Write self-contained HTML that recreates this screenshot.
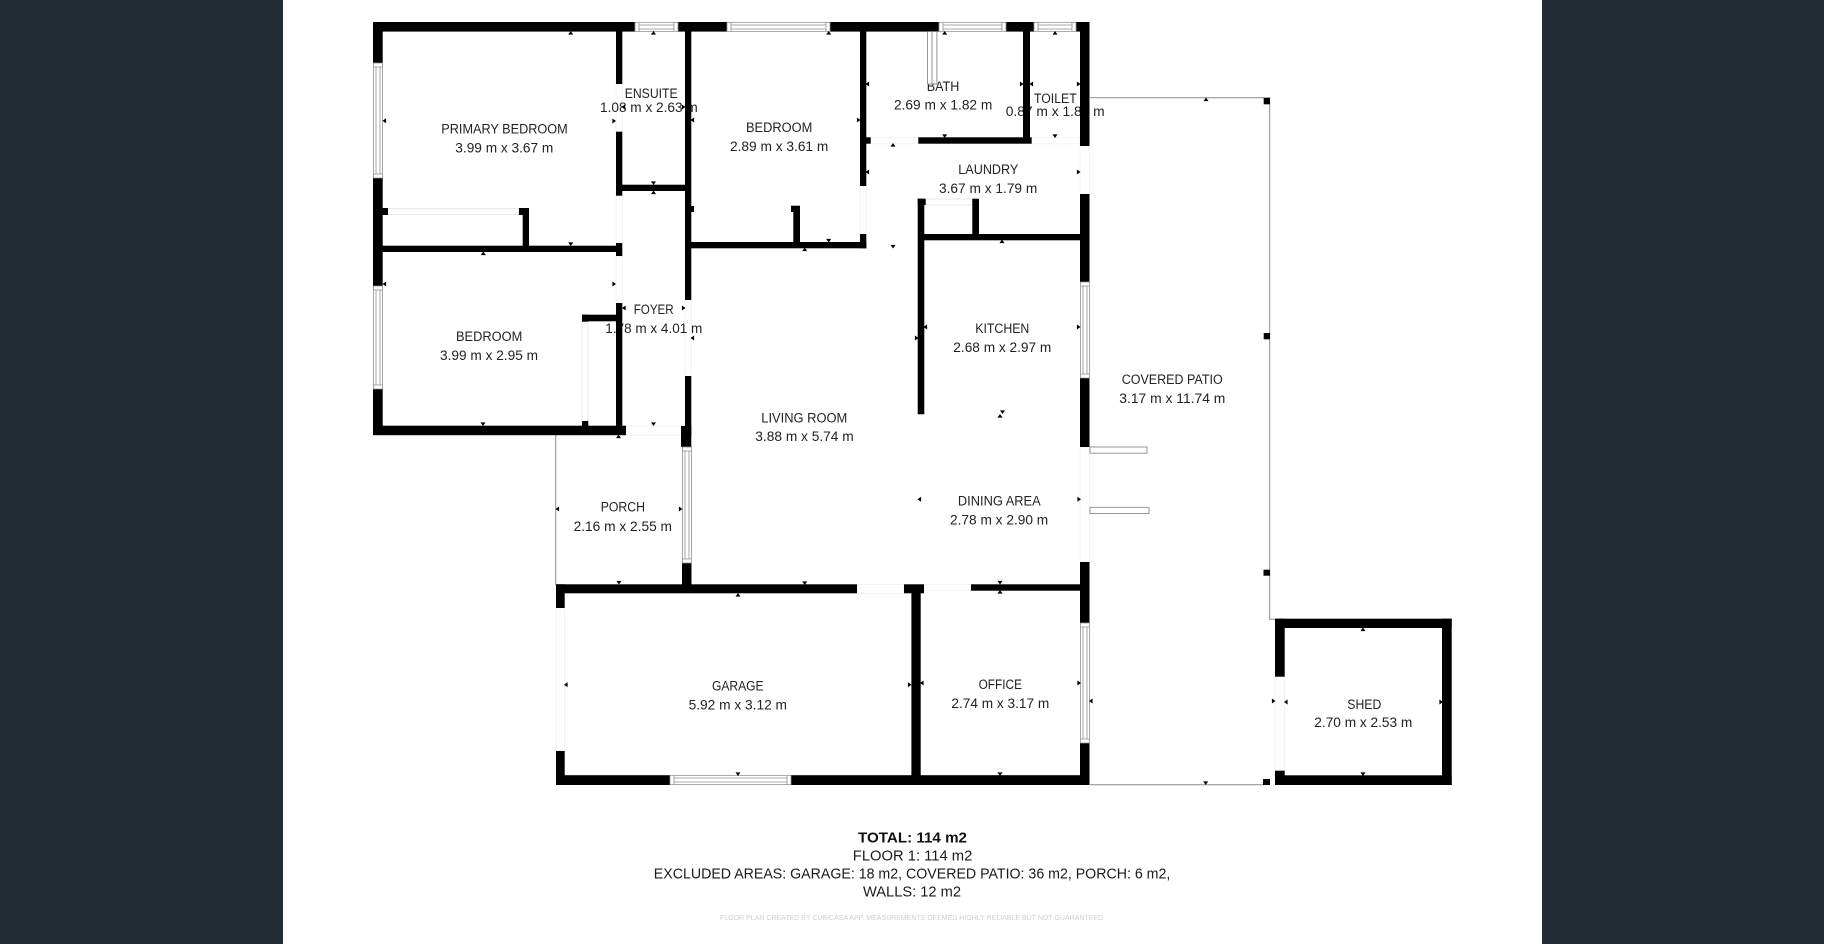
<!DOCTYPE html>
<html><head><meta charset="utf-8"><title>Floor plan</title>
<style>
html,body{margin:0;padding:0;background:#fff}
body{width:1824px;height:944px;overflow:hidden}
svg{display:block}
text{font-family:"Liberation Sans",sans-serif;font-size:14.2px;fill:#222}
.f{font-size:14.6px;fill:#1a1a1a}
.b{font-weight:bold;fill:#111}
.s{font-size:7.5px;fill:#cfcfcf}
</style></head>
<body>
<svg width="1824" height="944" viewBox="0 0 1824 944" xmlns="http://www.w3.org/2000/svg">
<defs>
<path id="u" d="M-2.5 1.6H2.5L0 -2z" fill="#000"/>
<path id="d" d="M-2.5 -1.6H2.5L0 2z" fill="#000"/>
<path id="l" d="M1.6 -2.5V2.5L-2 0z" fill="#000"/>
<path id="r" d="M-1.6 -2.5V2.5L2 0z" fill="#000"/>
</defs>
<rect x="0" y="0" width="283" height="944" fill="#212c34"/>
<rect x="1542" y="0" width="282" height="944" fill="#212c34"/>

<!-- thin outlines -->
<g fill="none" stroke="#8a8a8a" stroke-width="1">
<path d="M1090 97.7H1269.7V619.2H1276"/>
<path d="M1090 784.7H1264"/>
<path d="M555.7 435V585"/>
</g>

<!-- doors / light openings -->
<g fill="#fefefe" stroke="#f0f0f0" stroke-width="0.8">
<rect x="616" y="84" width="6.3" height="48"/>
<rect x="616" y="196" width="6.3" height="47"/>
<rect x="616" y="256" width="6.3" height="47"/>
<rect x="685" y="300" width="6.3" height="76"/>
<rect x="626" y="426" width="55" height="9"/>
<rect x="388" y="208.5" width="131" height="6" stroke="#e4e4e4"/>
<rect x="582" y="322" width="6" height="99" stroke="#e4e4e4"/>
<rect x="860" y="186" width="6.3" height="48"/>
<rect x="870.7" y="137.5" width="47.5" height="6.3"/>
<rect x="1031" y="137.5" width="49" height="6.3"/>
<rect x="925.7" y="199" width="46.5" height="6" stroke="#e4e4e4"/>
<rect x="1080" y="146" width="9.5" height="48"/>
<rect x="1080" y="447" width="9.5" height="115"/>
<rect x="857" y="584.5" width="47" height="9"/>
<rect x="924" y="584.5" width="47" height="6.3"/>
<rect x="556" y="608" width="8.5" height="143"/>
<rect x="1275" y="676.7" width="9.7" height="94"/>
</g>

<!-- labels -->
<g transform="translate(0,-0.9)">
<text x="441.3" y="134.3" textLength="126.4" lengthAdjust="spacingAndGlyphs">PRIMARY BEDROOM</text>
<text x="455.3" y="153.3" textLength="98" lengthAdjust="spacingAndGlyphs">3.99 m x 3.67 m</text>
<text x="624.7" y="99" textLength="53" lengthAdjust="spacingAndGlyphs">ENSUITE</text>
<text x="600" y="112.7" textLength="97.7" lengthAdjust="spacingAndGlyphs">1.08 m x 2.63 m</text>
<text x="633.7" y="315" textLength="40" lengthAdjust="spacingAndGlyphs">FOYER</text>
<text x="605.3" y="334" textLength="97" lengthAdjust="spacingAndGlyphs">1.78 m x 4.01 m</text>
<text x="456" y="342" textLength="66.3" lengthAdjust="spacingAndGlyphs">BEDROOM</text>
<text x="440" y="361" textLength="98" lengthAdjust="spacingAndGlyphs">3.99 m x 2.95 m</text>
<text x="746" y="132.7" textLength="66.3" lengthAdjust="spacingAndGlyphs">BEDROOM</text>
<text x="730" y="151.7" textLength="98.3" lengthAdjust="spacingAndGlyphs">2.89 m x 3.61 m</text>
<text x="926.7" y="91.7" textLength="32.6" lengthAdjust="spacingAndGlyphs">BATH</text>
<text x="894" y="110.3" textLength="98.3" lengthAdjust="spacingAndGlyphs">2.69 m x 1.82 m</text>
<text x="1034" y="104" textLength="42.7" lengthAdjust="spacingAndGlyphs">TOILET</text>
<text x="1005.7" y="117" textLength="99" lengthAdjust="spacingAndGlyphs">0.87 m x 1.82 m</text>
<text x="958.3" y="175" textLength="60" lengthAdjust="spacingAndGlyphs">LAUNDRY</text>
<text x="939" y="194" textLength="98.3" lengthAdjust="spacingAndGlyphs">3.67 m x 1.79 m</text>
<text x="975.3" y="333.7" textLength="54" lengthAdjust="spacingAndGlyphs">KITCHEN</text>
<text x="953.3" y="352.7" textLength="98" lengthAdjust="spacingAndGlyphs">2.68 m x 2.97 m</text>
<text x="761.3" y="423.3" textLength="86" lengthAdjust="spacingAndGlyphs">LIVING ROOM</text>
<text x="755.3" y="442" textLength="98.4" lengthAdjust="spacingAndGlyphs">3.88 m x 5.74 m</text>
<text x="600.7" y="512.3" textLength="44.3" lengthAdjust="spacingAndGlyphs">PORCH</text>
<text x="573.6" y="531.7" textLength="98.4" lengthAdjust="spacingAndGlyphs">2.16 m x 2.55 m</text>
<text x="957.9" y="506.3" textLength="82.8" lengthAdjust="spacingAndGlyphs">DINING AREA</text>
<text x="950" y="525.3" textLength="98.2" lengthAdjust="spacingAndGlyphs">2.78 m x 2.90 m</text>
<text x="712" y="691.3" textLength="51.6" lengthAdjust="spacingAndGlyphs">GARAGE</text>
<text x="688.6" y="710.3" textLength="98.4" lengthAdjust="spacingAndGlyphs">5.92 m x 3.12 m</text>
<text x="978.6" y="690" textLength="43.4" lengthAdjust="spacingAndGlyphs">OFFICE</text>
<text x="951.4" y="709" textLength="97.9" lengthAdjust="spacingAndGlyphs">2.74 m x 3.17 m</text>
<text x="1347.3" y="709.7" textLength="34" lengthAdjust="spacingAndGlyphs">SHED</text>
<text x="1314.3" y="728" textLength="98" lengthAdjust="spacingAndGlyphs">2.70 m x 2.53 m</text>
<text x="1121.7" y="384.7" textLength="101" lengthAdjust="spacingAndGlyphs">COVERED PATIO</text>
<text x="1119.3" y="403.7" textLength="106" lengthAdjust="spacingAndGlyphs">3.17 m x 11.74 m</text>

<text class="f b" x="858" y="843.3" textLength="109" lengthAdjust="spacingAndGlyphs">TOTAL: 114 m2</text>
<text class="f" x="852.8" y="861.3" textLength="119.5" lengthAdjust="spacingAndGlyphs">FLOOR 1: 114 m2</text>
<text class="f" x="653.8" y="879.3" textLength="516.5" lengthAdjust="spacingAndGlyphs">EXCLUDED AREAS: GARAGE: 18 m2, COVERED PATIO: 36 m2, PORCH: 6 m2,</text>
<text class="f" x="863" y="897.3" textLength="98" lengthAdjust="spacingAndGlyphs">WALLS: 12 m2</text>
<text class="s" x="720" y="921" textLength="385" lengthAdjust="spacingAndGlyphs">FLOOR PLAN CREATED BY CUBICASA APP. MEASUREMENTS DEEMED HIGHLY RELIABLE BUT NOT GUARANTEED.</text>
</g>

<!-- walls -->
<g fill="#000">
<!-- top wall -->
<rect x="373" y="22" width="262" height="9.6"/>
<rect x="678" y="22" width="49" height="9.6"/>
<rect x="830" y="22" width="109" height="9.6"/>
<rect x="1006" y="22" width="28" height="9.6"/>
<rect x="1076" y="22" width="13.5" height="9.6"/>
<!-- left wall -->
<rect x="373" y="22" width="9.7" height="41"/>
<rect x="373" y="178" width="9.7" height="108"/>
<rect x="373" y="389" width="9.7" height="46"/>
<!-- bedroom bottom -->
<rect x="373" y="425.7" width="253" height="9.5"/>
<!-- ensuite west wall -->
<rect x="616" y="31" width="6.3" height="53"/>
<rect x="616" y="131.7" width="6.3" height="64"/>
<rect x="622" y="184.7" width="63.5" height="6.3"/>
<rect x="616" y="243" width="6.3" height="13"/>
<rect x="616" y="303" width="6.3" height="130"/>
<!-- ensuite east wall -->
<rect x="685" y="31" width="6.3" height="269"/>
<rect x="685" y="376" width="6.3" height="60"/>
<rect x="691" y="206" width="3" height="6"/>
<rect x="681" y="426" width="10.3" height="21"/>
<!-- bedrooms divider and closets -->
<rect x="382" y="245.7" width="234" height="6.3"/>
<rect x="382" y="208" width="6" height="7"/>
<rect x="519" y="208" width="10" height="7"/>
<rect x="522.7" y="214" width="6.3" height="32"/>
<rect x="582" y="314.7" width="34" height="6.6"/>
<rect x="582" y="314.7" width="6.3" height="7"/>
<rect x="582" y="421" width="6.3" height="5"/>
<!-- bedroom 2 -->
<rect x="691" y="242" width="175.3" height="6.3"/>
<rect x="793.3" y="206" width="6.7" height="37"/>
<rect x="791" y="205.7" width="9" height="6.3"/>
<rect x="860" y="31" width="6.3" height="155"/>
<rect x="860" y="234" width="6.3" height="14.3"/>
<!-- bath -->
<rect x="860" y="137.3" width="10.7" height="6.4"/>
<rect x="918.3" y="137.3" width="113.4" height="6.4"/>
<rect x="1023" y="31" width="7" height="110"/>
<!-- kitchen -->
<rect x="917.7" y="198.7" width="6.6" height="215.6"/>
<rect x="917.7" y="198.7" width="8" height="6.3"/>
<rect x="972.3" y="198.7" width="6.7" height="36"/>
<rect x="924" y="234" width="156" height="6.3"/>
<!-- east wall -->
<rect x="1080" y="22" width="9.5" height="124"/>
<rect x="1080" y="194" width="9.5" height="88"/>
<rect x="1080" y="378" width="9.5" height="69"/>
<rect x="1080" y="562" width="9.5" height="61"/>
<rect x="1080" y="743" width="9.5" height="42"/>
<!-- porch east -->
<rect x="682" y="446" width="9.5" height="1.5"/>
<rect x="682" y="563" width="9.5" height="22"/>
<!-- garage top -->
<rect x="556" y="584.3" width="301" height="9"/>
<rect x="904" y="584.3" width="20" height="9"/>
<rect x="971" y="584.3" width="110" height="6.4"/>
<rect x="911.4" y="590" width="9.3" height="190"/>
<!-- garage west -->
<rect x="556" y="584.3" width="8.7" height="23.7"/>
<rect x="556" y="751" width="8.7" height="34"/>
<!-- bottom -->
<rect x="556" y="775.2" width="114" height="9.8"/>
<rect x="791" y="775.2" width="298.5" height="9.8"/>
<!-- shed -->
<rect x="1275" y="618.7" width="176.7" height="9.3"/>
<rect x="1275" y="618.7" width="9.7" height="58"/>
<rect x="1275" y="770.7" width="9.7" height="14.3"/>
<rect x="1275" y="775.3" width="176.7" height="9.7"/>
<rect x="1442" y="618.7" width="9.7" height="166.3"/>
<!-- posts -->
<rect x="1263.7" y="98" width="6.3" height="6.3"/>
<rect x="1263.7" y="333" width="6.3" height="6.3"/>
<rect x="1263.5" y="569.7" width="6.5" height="6"/>
<rect x="1263" y="779" width="7" height="6"/>
</g>

<!-- windows -->
<g fill="#fff" stroke="#8f8f8f" stroke-width="0.8">
<path d="M373.4 63h9v115h-9z M373.4 67h9 M373.4 174h9 M376 67v107 M380 67v107"/>
<path d="M373.4 286h9v103h-9z M373.4 290h9 M373.4 385h9 M376 290v95 M380 290v95"/>
<path d="M1080.4 282h9v96h-9z M1080.4 286h9 M1080.4 374h9 M1083 286v88 M1087 286v88"/>
<path d="M682.4 447h9v116h-9z M682.4 451h9 M682.4 559h9 M685 451v108 M689 451v108"/>
<path d="M1080.4 623h9v120h-9z M1080.4 627h9 M1080.4 739h9 M1083 627v112 M1087 627v112"/>
<path d="M635 22.4h43v9h-43z M639 22.4v9 M674 22.4v9 M639 25h35 M639 29h35"/>
<path d="M727 22.4h103v9h-103z M731 22.4v9 M826 22.4v9 M731 25h95 M731 29h95"/>
<path d="M939 22.4h67v9h-67z M943 22.4v9 M1002 22.4v9 M943 25h59 M943 29h59"/>
<path d="M1034 22.4h42v9h-42z M1038 22.4v9 M1072 22.4v9 M1038 25h34 M1038 29h34"/>
<path d="M670 775.6h121v9h-121z M674 775.6v9 M787 775.6v9 M674 778h113 M674 782h113"/>
</g>
<!-- shower door and patio slider -->
<g fill="#fff" stroke="#8a8a8a" stroke-width="0.9">
<path d="M927.5 31.6h9.4v52.4h-9.4z M932 31.6v52"/>
<rect x="1090" y="447" width="57" height="6.2"/>
<rect x="1090" y="507.3" width="59" height="6.2"/>
</g>

<!-- dimension ticks -->
<g>
<use href="#u" x="570.7" y="33"/><use href="#u" x="653.5" y="33"/>
<use href="#l" x="384.5" y="120.7"/><use href="#r" x="614" y="121"/>
<use href="#r" x="683.5" y="107"/><use href="#l" x="623.5" y="107"/>
<use href="#l" x="692.5" y="120"/>
<use href="#d" x="653.5" y="183"/><use href="#u" x="653.5" y="192.5"/>
<use href="#d" x="570.7" y="244"/><use href="#u" x="483.3" y="253.5"/>
<use href="#l" x="384.5" y="284"/><use href="#r" x="614" y="284"/>
<use href="#l" x="624" y="308"/><use href="#r" x="683.5" y="308"/>
<use href="#l" x="692.5" y="338"/>
<use href="#d" x="483" y="424"/><use href="#d" x="653.5" y="424"/>
<use href="#u" x="618.5" y="436.5"/>
<use href="#u" x="828.7" y="33"/><use href="#r" x="858.5" y="120"/>
<use href="#l" x="867.5" y="84"/><use href="#l" x="867.5" y="172"/>
<use href="#u" x="944.7" y="33"/><use href="#d" x="944.7" y="136"/>
<use href="#r" x="1021.5" y="84"/><use href="#l" x="1031.5" y="84"/>
<use href="#u" x="1055" y="33"/><use href="#r" x="1078.5" y="84"/>
<use href="#d" x="1055" y="136"/>
<use href="#u" x="893" y="145"/><use href="#r" x="1078.5" y="172"/>
<use href="#d" x="893" y="246.5"/>
<use href="#d" x="828.7" y="240.5"/><use href="#u" x="804.7" y="249.5"/>
<use href="#u" x="1002" y="241.5"/>
<use href="#l" x="925.5" y="327"/><use href="#r" x="916.5" y="338"/>
<use href="#r" x="1078.5" y="327"/>
<use href="#d" x="1002.5" y="412"/><use href="#u" x="1000" y="416"/>
<use href="#l" x="557.5" y="509"/><use href="#r" x="680.5" y="509"/>
<use href="#d" x="619" y="582.5"/><use href="#d" x="804.7" y="583"/>
<use href="#u" x="738" y="595"/>
<use href="#l" x="919.5" y="499.3"/><use href="#r" x="1079" y="499.3"/>
<use href="#d" x="1000" y="582.5"/><use href="#u" x="1000" y="592"/>
<use href="#l" x="566" y="684.7"/><use href="#r" x="909.5" y="684.7"/>
<use href="#l" x="922" y="683"/><use href="#r" x="1079" y="683"/>
<use href="#d" x="738" y="774"/><use href="#d" x="1000" y="774"/>
<use href="#l" x="1091" y="701"/><use href="#r" x="1273.5" y="701"/>
<use href="#l" x="1286" y="702"/><use href="#r" x="1441" y="702"/>
<use href="#u" x="1363" y="629.5"/><use href="#d" x="1363" y="774"/>
<use href="#d" x="1205.7" y="783"/><use href="#u" x="1206" y="99.5"/>
</g>
</svg>
</body></html>
